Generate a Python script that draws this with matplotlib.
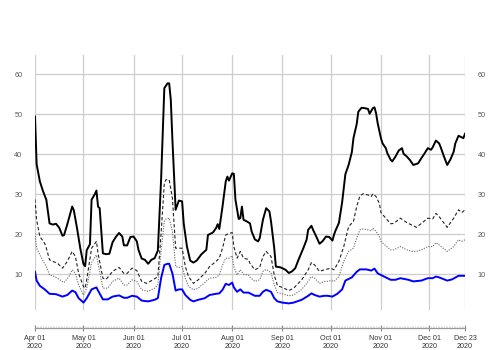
import matplotlib
matplotlib.use("Agg")
import matplotlib.pyplot as plt
import matplotlib.dates as mdates
import pandas as pd
import numpy as np

plt.rcParams['font.family'] = ['Liberation Sans', 'DejaVu Sans']

start = pd.Timestamp("2020-04-01")
end = pd.Timestamp("2020-12-23")

black_day = [0, 1, 3, 5, 7, 9, 11, 13, 15, 17, 18, 20, 23, 24, 26, 28, 30, 31, 32, 34,
             35, 37, 38, 39, 40, 42, 44, 46, 48, 50, 52, 54, 55, 57, 59, 61, 63, 64, 66, 68,
             70, 72, 74, 76, 78, 80, 82, 83, 84, 85, 87, 89, 91, 92, 94, 96, 98, 100, 103, 106,
             107, 110, 112, 113, 114, 116, 118, 119, 120, 122, 123, 124, 126, 127, 128, 129, 131, 133, 134, 136,
             138, 139, 141, 143, 145, 146, 148, 149, 152, 155, 157, 159, 161, 163, 166, 168, 169, 171, 172, 174,
             176, 178, 180, 182, 184, 185, 186, 188, 190, 192, 194, 196, 197, 199, 200, 202, 204, 206, 207, 209,
             210, 211, 212, 214, 215, 217, 218, 220, 221, 223, 225, 227, 228, 230, 232, 234, 237, 239, 241, 243,
             245, 246, 248, 250, 251, 253, 255, 257, 259, 260, 262, 264, 265, 266]
black_val = [49.4, 37.5, 33.2, 30.7, 28.6, 22.7, 22.4, 22.6, 21.6, 19.6, 19.8, 22.5, 26.9, 26.0, 21.5, 16.5, 12.5, 12.0, 16.0, 17.5,
             28.6, 30.0, 30.9, 26.9, 26.5, 15.2, 15.0, 15.1, 18.0, 19.3, 20.3, 19.4, 17.2, 17.2, 19.3, 19.4, 18.2, 16.1, 13.9, 13.6,
             12.6, 13.6, 14.0, 15.9, 33.6, 56.5, 57.7, 57.7, 53.6, 43.6, 26.1, 28.4, 28.2, 22.7, 16.9, 13.4, 12.9, 13.4, 15.0, 16.1,
             19.8, 20.4, 21.5, 22.5, 21.3, 26.9, 33.2, 34.4, 33.4, 35.2, 35.1, 28.6, 23.8, 24.0, 26.9, 23.6, 23.2, 22.7, 20.7, 18.7,
             18.2, 19.0, 23.6, 26.5, 25.7, 23.2, 16.5, 11.9, 11.7, 11.1, 10.3, 10.7, 11.5, 13.6, 16.5, 18.6, 21.1, 22.1, 21.1, 19.4,
             17.6, 18.3, 19.4, 19.3, 18.4, 19.9, 21.0, 22.8, 28.0, 35.0, 37.3, 40.5, 44.0, 47.5, 50.6, 51.6, 51.5, 51.3, 50.1, 51.5,
             51.7, 50.2, 47.7, 44.0, 42.7, 41.5, 40.2, 38.6, 38.2, 39.4, 40.9, 41.5, 40.1, 39.4, 38.5, 37.3, 37.7, 39.0, 40.2, 41.5,
             41.1, 41.7, 43.4, 42.7, 41.7, 39.4, 37.3, 38.7, 40.6, 42.7, 44.6, 44.2, 44.0, 45.1]

dash_day = [0, 1, 3, 6, 7, 9, 11, 14, 17, 20, 23, 25, 27, 30, 31, 32, 35, 38, 39, 42,
            44, 48, 52, 55, 57, 60, 63, 66, 69, 73, 76, 78, 80, 81, 83, 85, 87, 89, 91, 93,
            95, 98, 101, 105, 108, 112, 114, 116, 118, 120, 122, 123, 125, 127, 129, 132, 133, 136, 139, 141,
            143, 146, 148, 150, 153, 157, 160, 165, 169, 171, 173, 176, 179, 181, 183, 185, 188, 191, 194, 197,
            199, 201, 203, 206, 208, 209, 211, 213, 214, 217, 220, 222, 226, 230, 233, 236, 239, 243, 246, 248,
            250, 255, 259, 262, 264, 266]
dash_val = [28.7, 23.6, 19.4, 17.7, 16.5, 13.6, 13.2, 12.7, 11.5, 13.2, 15.7, 14.4, 10.2, 6.9, 6.5, 8.6, 16.5, 18.2, 15.2, 9.0,
            8.7, 10.7, 11.7, 10.2, 10.2, 11.5, 10.9, 8.2, 7.7, 8.6, 9.4, 20.2, 32.7, 33.6, 33.6, 29.0, 16.5, 16.5, 16.5, 11.9,
            9.4, 7.7, 8.6, 10.2, 11.9, 13.2, 14.0, 16.5, 19.8, 20.2, 20.4, 16.9, 14.0, 15.7, 14.0, 13.7, 12.7, 11.1, 11.7, 14.4,
            15.7, 14.4, 9.8, 7.1, 6.7, 5.9, 6.5, 8.6, 11.1, 12.9, 12.3, 10.7, 11.1, 11.3, 11.5, 11.1, 13.2, 16.9, 21.9, 23.2,
            26.9, 29.6, 30.1, 29.8, 29.4, 30.1, 29.4, 27.7, 25.4, 24.0, 22.6, 22.7, 24.0, 22.9, 22.3, 21.7, 22.7, 24.0, 23.8, 25.2,
            24.4, 21.7, 24.0, 26.1, 25.4, 26.1]

dot_day = [0, 1, 4, 7, 9, 12, 15, 18, 21, 23, 25, 27, 30, 32, 35, 38, 39, 42, 45, 48,
           52, 55, 57, 60, 63, 66, 70, 74, 76, 78, 80, 81, 83, 85, 87, 89, 91, 93, 95, 98,
           101, 105, 108, 112, 114, 116, 118, 120, 122, 123, 125, 127, 129, 132, 133, 136, 139, 141, 143, 146,
           148, 150, 153, 157, 160, 165, 169, 171, 173, 176, 179, 181, 183, 185, 188, 191, 194, 197, 199, 201,
           203, 206, 208, 209, 211, 213, 214, 217, 220, 222, 226, 230, 233, 236, 239, 243, 246, 248, 250, 255,
           259, 262, 264, 266]
dot_val = [20.2, 16.5, 14.0, 11.9, 9.8, 9.4, 8.7, 7.9, 9.4, 11.1, 10.2, 7.3, 4.8, 6.5, 12.9, 14.8, 12.7, 6.5, 6.5, 8.2,
           9.0, 7.3, 7.3, 8.6, 8.2, 6.1, 5.7, 6.5, 7.3, 15.7, 23.2, 23.8, 24.0, 20.7, 11.9, 11.7, 11.9, 9.0, 6.9, 6.1,
           6.5, 7.9, 9.0, 9.2, 9.8, 12.3, 14.0, 14.0, 14.6, 11.9, 9.8, 11.1, 10.0, 9.8, 9.2, 8.2, 8.6, 10.7, 11.2, 10.4,
           7.3, 5.4, 5.1, 4.6, 4.8, 6.2, 8.2, 9.4, 9.0, 7.7, 8.2, 8.2, 8.4, 8.2, 9.4, 13.2, 15.7, 16.5, 19.0, 21.1,
           21.3, 21.1, 20.8, 21.5, 20.7, 19.4, 18.2, 17.1, 16.1, 16.1, 16.9, 16.1, 15.7, 15.7, 16.1, 16.9, 16.9, 17.9, 17.3, 15.7,
           16.9, 18.6, 18.2, 18.6]

blue_day = [0, 1, 3, 6, 9, 13, 17, 20, 23, 25, 27, 30, 32, 35, 38, 39, 42, 45, 48, 52,
            55, 57, 60, 63, 66, 70, 74, 76, 78, 80, 82, 83, 85, 87, 89, 91, 93, 96, 98, 101,
            105, 108, 112, 114, 116, 118, 120, 122, 123, 125, 127, 129, 132, 133, 136, 139, 141, 143, 146, 148,
            150, 153, 157, 160, 165, 169, 171, 173, 176, 179, 181, 184, 187, 190, 192, 196, 199, 201, 205, 208,
            210, 212, 215, 218, 220, 223, 226, 231, 234, 239, 243, 246, 248, 250, 255, 258, 262, 266]
blue_val = [10.6, 8.4, 7.1, 6.2, 5.1, 5.0, 4.4, 4.8, 5.9, 5.5, 4.0, 2.9, 4.0, 6.2, 6.7, 5.9, 3.7, 3.7, 4.4, 4.7,
            4.1, 4.1, 4.6, 4.4, 3.4, 3.2, 3.6, 4.0, 9.0, 12.3, 12.6, 12.6, 10.2, 5.9, 6.2, 6.2, 4.8, 3.6, 3.2, 3.6,
            4.0, 4.8, 5.1, 5.2, 6.1, 7.6, 7.3, 7.9, 6.7, 5.6, 6.2, 5.4, 5.4, 5.2, 4.6, 4.6, 5.6, 6.1, 5.6, 4.0,
            3.2, 2.9, 2.7, 2.9, 3.6, 4.6, 5.2, 4.8, 4.4, 4.6, 4.6, 4.4, 5.1, 6.2, 8.4, 9.2, 10.6, 11.2, 11.2, 10.9,
            11.4, 10.2, 9.6, 9.0, 8.6, 8.6, 9.0, 8.6, 8.2, 8.4, 9.0, 9.0, 9.4, 9.2, 8.4, 8.7, 9.6, 9.6]

y_ticks = [10, 20, 30, 40, 50, 60]
x_tick_dates = ["2020-04-01", "2020-05-01", "2020-06-01", "2020-07-01", "2020-08-01",
                "2020-09-01", "2020-10-01", "2020-11-01", "2020-12-01", "2020-12-23"]


def to_dates(days):
    return start + pd.to_timedelta(days, unit="D")


fig = plt.figure(figsize=(5, 3.5), dpi=100)
ax = fig.add_axes([0.07, 0.1143, 0.86, 0.7287])

grid_c = "#cdcdcd"
ticks = pd.to_datetime(x_tick_dates)
for t in ticks:
    ax.axvline(t, color=grid_c, lw=0.9, zorder=1)
for yv in y_ticks:
    ax.axhline(yv, color=grid_c, lw=0.9, zorder=1)

ax.plot(to_dates(black_day), black_val, color="black", lw=1.4, zorder=3,
        solid_joinstyle="round")
ax.plot(to_dates(dash_day), dash_val, color="#222222", lw=0.8, ls=(0, (3, 2)), zorder=3)
ax.plot(to_dates(dot_day), dot_val, color="#666666", lw=0.8, ls=(0, (1, 1.3)), zorder=3)
ax.plot(to_dates(blue_day), blue_val, color="#0000ff", lw=1.4, zorder=3,
        solid_joinstyle="round")

ax.set_xlim(start, end)
ax.set_ylim(1.05, 64.8)

for s in ["top", "left", "right"]:
    ax.spines[s].set_visible(False)
ax.spines["bottom"].set_position(("outward", 13))
ax.spines["bottom"].set_color("#999999")
ax.spines["bottom"].set_linewidth(0.9)

ax.set_xticks(ticks)
ax.set_xticklabels([t.strftime("%b %d\n%Y") for t in ticks], fontsize=5.2,
                   color="#333333", linespacing=1.25)
ax.xaxis.set_minor_locator(mdates.DayLocator())
ax.tick_params(axis="x", which="major", direction="inout", length=4, width=0.8,
               color="#888888", pad=3)
ax.tick_params(axis="x", which="minor", direction="in", length=1.5, width=0.5,
               color="#d0d0d0")

ax.set_yticks(y_ticks)
ax.set_yticklabels([str(v) for v in y_ticks], fontsize=5.2, color="#555555")
ax.tick_params(axis="y", length=0, pad=9, labelleft=True, labelright=True)

fig.savefig("out.png", dpi=100)
